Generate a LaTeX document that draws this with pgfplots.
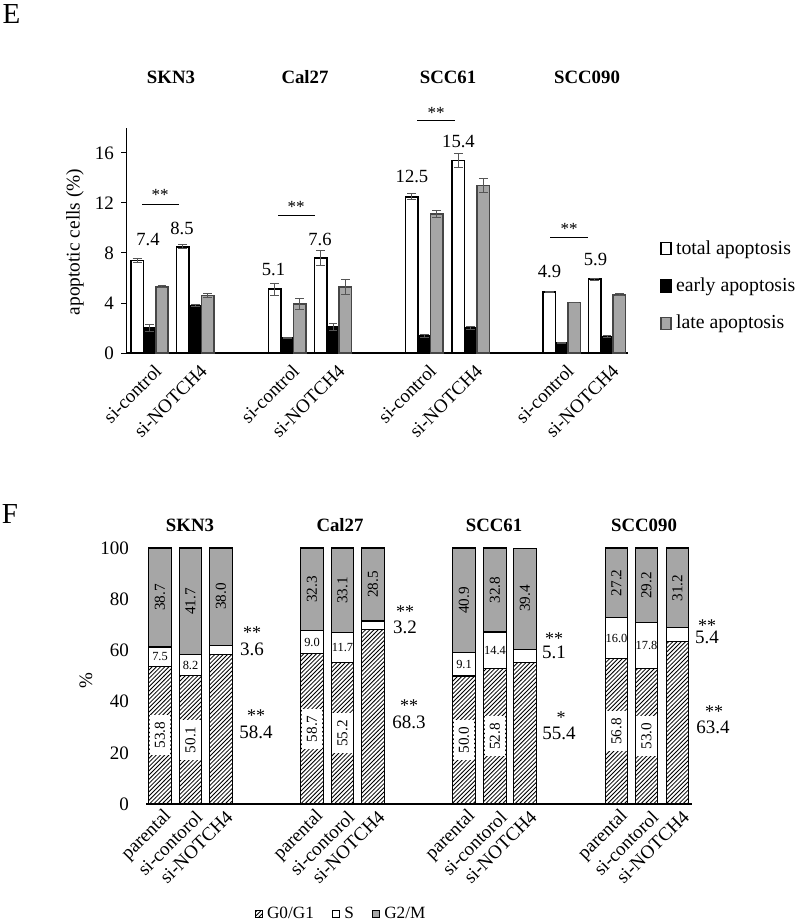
\documentclass[border=0pt]{standalone}
\usepackage{pgfplots}
\pgfplotsset{compat=1.18}
\usepackage{fontspec}
\setmainfont{Liberation Serif}
\usetikzlibrary{patterns}
\pgfdeclarepatternformonly{hatch}{\pgfqpoint{-1pt}{-1pt}}{\pgfqpoint{3.2pt}{3.2pt}}{\pgfqpoint{2.1pt}{2.1pt}}{%
  \pgfsetlinewidth{0.4pt}%
  \pgfpathmoveto{\pgfqpoint{0pt}{0pt}}%
  \pgfpathlineto{\pgfqpoint{2.2pt}{2.2pt}}%
  \pgfusepath{stroke}}
\definecolor{bargray}{RGB}{166,166,166}
\definecolor{edgegray}{RGB}{70,70,70}
\definecolor{errgray}{RGB}{85,85,85}
\newcommand{\fs}[1]{\fontsize{#1}{#1}\selectfont}
\pgfplotsset{
  errE/.style={/pgfplots/error bars/y dir=both, /pgfplots/error bars/y explicit,
    /pgfplots/error bars/error bar style={errgray, line width=0.5pt},
    /pgfplots/error bars/error mark options={rotate=90, mark size=2.2pt, errgray, line width=0.5pt}},
  Fgeom/.style={at={(73pt,-402pt)}, anchor=south west,
    scale only axis, width=273pt, height=128pt,
    xmin=146, xmax=692, ymin=0, ymax=100, clip=false},
}
\tikzset{g0box/.style={rotate=90, fill=white, inner sep=0pt, minimum width=20pt, minimum height=10.4pt, font=\fs{7.6}}}
\begin{document}
\begin{tikzpicture}
\useasboundingbox (0,0) rectangle (399pt,-462pt);
\node[font=\fs{14.5}] at (5.8pt,-6.8pt) {E};
\node[font=\fs{14.5}] at (5pt,-257pt) {F};

% ---------------- Panel E ----------------
\begin{axis}[
  at={(63pt,-176.5pt)}, anchor=south west,
  scale only axis, width=251pt, height=112.5pt,
  xmin=126, xmax=628, ymin=0, ymax=18,
  clip=false,
  axis x line*=bottom, axis y line*=left,
  x axis line style={-, line width=1pt},
  y axis line style={-, line width=0.5pt},
  ytick={0,4,8,12,16},
  xtick={149.5,195.2,287.2,333.0,424.2,470.8,561.8,607.0},
  xticklabels={si-control,si-NOTCH4,si-control,si-NOTCH4,si-control,si-NOTCH4,si-control,si-NOTCH4},
  x tick style={draw=none},
  y tick style={black, line width=0.5pt},
  tick align=outside, major tick length=2.5pt,
  xticklabel style={font=\fs{9.5}, rotate=45, anchor=east, xshift=3pt, yshift=-6.5pt},
  yticklabel style={font=\fs{9.5}},
  /pgf/number format/assume math mode=true,
  bar width=12.4, bar shift=0pt,
  legend style={at={(axis cs:660,5.36)}, anchor=west, draw=none, fill=none, font=\fs{9.9}, row sep=6.3pt, inner sep=0pt, cells={anchor=west}},
  legend image code/.code={\draw[#1] (0pt,-3pt) rectangle (5pt,3pt);},
]
\addplot[ybar, fill=white, draw=black, line width=0.8pt, errE] coordinates {
 (137.1,7.4) +- (0,0.2)
 (182.8,8.5) +- (0,0.15)
 (274.8,5.1) +- (0,0.5)
 (320.6,7.6) +- (0,0.6)
 (411.8,12.5) +- (0,0.25)
 (458.4,15.4) +- (0,0.55)
 (549.4,4.9) +- (0,0.05)
 (594.6,5.9) +- (0,0.1)
};
\addlegendentry{total apoptosis}
\addplot[ybar, fill=black, draw=black, line width=0.8pt, errE] coordinates {
 (149.5,2.0) +- (0,0.25)
 (195.2,3.8) +- (0,0.1)
 (287.2,1.2) +- (0,0.05)
 (333.0,2.1) +- (0,0.3)
 (424.2,1.35) +- (0,0.1)
 (470.8,2.0) +- (0,0.15)
 (561.8,0.8) +- (0,0.05)
 (607.0,1.3) +- (0,0.1)
};
\addlegendentry{early apoptosis}
\addplot[ybar, fill=bargray, draw=edgegray, line width=0.8pt, errE] coordinates {
 (161.9,5.3) +- (0,0.1)
 (207.6,4.6) +- (0,0.2)
 (299.6,3.9) +- (0,0.45)
 (345.4,5.3) +- (0,0.6)
 (436.6,11.1) +- (0,0.3)
 (483.2,13.4) +- (0,0.55)
 (574.2,4.05) +- (0,0.02)
 (619.4,4.65) +- (0,0.08)
};
\addlegendentry{late apoptosis}
% significance brackets
\addplot[black, line width=0.5pt, forget plot] coordinates {(142,11.9) (179,11.9)};
\addplot[black, line width=0.5pt, forget plot] coordinates {(278,10.96) (315,10.96)};
\addplot[black, line width=0.5pt, forget plot] coordinates {(417,18.56) (455,18.56)};
\addplot[black, line width=0.5pt, forget plot] coordinates {(550,9.2) (588,9.2)};
\node[font=\fs{8.5}] at (axis cs:160,12.64) {**};
\node[font=\fs{8.5}] at (axis cs:296,11.68) {**};
\node[font=\fs{8.5}] at (axis cs:436,19.24) {**};
\node[font=\fs{8.5}] at (axis cs:569,9.94) {**};
\node[font=\fs{9.3}] at (axis cs:148,9.04) {7.4};
\node[font=\fs{9.3}] at (axis cs:182,10.0) {8.5};
\node[font=\fs{9.3}] at (axis cs:273.5,6.7) {5.1};
\node[font=\fs{9.3}] at (axis cs:320,9.1) {7.6};
\node[font=\fs{9.3}] at (axis cs:412,14.1) {12.5};
\node[font=\fs{9.3}] at (axis cs:458.5,16.96) {15.4};
\node[font=\fs{9.3}] at (axis cs:549.5,6.5) {4.9};
\node[font=\fs{9.3}] at (axis cs:595.5,7.5) {5.9};
\node[font=\bfseries\fs{9.4}] at (axis cs:171,22.08) {SKN3};
\node[font=\bfseries\fs{9.4}] at (axis cs:305,22.08) {Cal27};
\node[font=\bfseries\fs{9.4}] at (axis cs:448,22.08) {SCC61};
\node[font=\bfseries\fs{9.4}] at (axis cs:587,22.08) {SCC090};
\node[rotate=90, font=\fs{9.7}] at (axis cs:75,8.88) {apoptotic cells (\%)};
\end{axis}

% ---------------- Panel F ----------------
\begin{axis}[
  Fgeom,
  ybar stacked, bar width=22.5, bar shift=0pt,
  axis x line*=bottom, axis y line*=left,
  x axis line style={-, line width=1pt},
  y axis line style={draw=none},
  tick style={draw=none},
  ytick={0,20,40,60,80,100},
  xtick={160,190.5,221,312,342.5,373,464,495,525,616.5,646.5,677.5},
  xticklabels={parental,si-contorol,si-NOTCH4,parental,si-contorol,si-NOTCH4,parental,si-contorol,si-NOTCH4,parental,si-contorol,si-NOTCH4},
  xticklabel style={font=\fs{9.5}, rotate=45, anchor=east, xshift=3pt, yshift=-6.5pt},
  yticklabel style={font=\fs{9.5}, xshift=-5pt},
  /pgf/number format/assume math mode=true,
  legend style={at={(axis cs:342,-43)}, anchor=center, legend columns=3, draw=none, fill=none, font=\fs{8.6}, /tikz/every even column/.style={column sep=7pt}},
  legend image code/.code={\draw[#1] (0pt,-1.8pt) rectangle (3.6pt,1.8pt);},
]
\addplot[pattern=hatch, pattern color=black, draw=black, line width=0.6pt] coordinates {
 (160,53.8) (190.5,50.1) (221,58.4)
 (312,58.7) (342.5,55.2) (373,68.3)
 (464,50.0) (495,52.8) (525,55.4)
 (616.5,56.8) (646.5,53.0) (677.5,63.4)
};
\addlegendentry{G0/G1}
\addplot[fill=white, draw=black, line width=0.6pt] coordinates {
 (160,7.5) (190.5,8.2) (221,3.6)
 (312,9.0) (342.5,11.7) (373,3.2)
 (464,9.1) (495,14.4) (525,5.1)
 (616.5,16.0) (646.5,17.8) (677.5,5.4)
};
\addlegendentry{S}
\addplot[fill=bargray, draw=black, line width=0.6pt] coordinates {
 (160,38.7) (190.5,41.7) (221,38.0)
 (312,32.3) (342.5,33.1) (373,28.5)
 (464,40.9) (495,32.8) (525,39.4)
 (616.5,27.2) (646.5,29.2) (677.5,31.2)
};
\addlegendentry{G2/M}
\end{axis}

% ---------------- Panel F labels (overlay with identical geometry) ----------------
\begin{axis}[Fgeom, hide axis]
% G2/M labels
\node[rotate=90, font=\fs{7.6}] at (axis cs:160,80.65) {38.7};
\node[rotate=90, font=\fs{7.6}] at (axis cs:190.5,79.15) {41.7};
\node[rotate=90, font=\fs{7.6}] at (axis cs:221,81) {38.0};
\node[rotate=90, font=\fs{7.6}] at (axis cs:312,83.85) {32.3};
\node[rotate=90, font=\fs{7.6}] at (axis cs:342.5,83.45) {33.1};
\node[rotate=90, font=\fs{7.6}] at (axis cs:373,85.75) {28.5};
\node[rotate=90, font=\fs{7.6}] at (axis cs:464,79.55) {40.9};
\node[rotate=90, font=\fs{7.6}] at (axis cs:495,83.6) {32.8};
\node[rotate=90, font=\fs{7.6}] at (axis cs:525,80.3) {39.4};
\node[rotate=90, font=\fs{7.6}] at (axis cs:616.5,86.4) {27.2};
\node[rotate=90, font=\fs{7.6}] at (axis cs:646.5,85.4) {29.2};
\node[rotate=90, font=\fs{7.6}] at (axis cs:677.5,84.4) {31.2};
% S labels
\node[font=\fs{6.2}] at (axis cs:160,57.55) {7.5};
\node[font=\fs{6.2}] at (axis cs:190.5,54.2) {8.2};
\node[font=\fs{6.2}] at (axis cs:312,63.2) {9.0};
\node[font=\fs{6.2}] at (axis cs:342.5,61.05) {11.7};
\node[font=\fs{6.2}] at (axis cs:464,54.55) {9.1};
\node[font=\fs{6.2}] at (axis cs:495,60.0) {14.4};
\node[font=\fs{6.2}] at (axis cs:616.5,64.8) {16.0};
\node[font=\fs{6.2}] at (axis cs:646.5,61.9) {17.8};
% G0/G1 labels
\node[g0box] at (axis cs:160,26.9) {53.8};
\node[g0box] at (axis cs:190.5,25.05) {50.1};
\node[g0box] at (axis cs:312,29.35) {58.7};
\node[g0box] at (axis cs:342.5,27.6) {55.2};
\node[g0box] at (axis cs:464,25) {50.0};
\node[g0box] at (axis cs:495,26.4) {52.8};
\node[g0box] at (axis cs:616.5,28.4) {56.8};
\node[g0box] at (axis cs:646.5,26.5) {53.0};
% outside labels
\node[font=\fs{9}] at (axis cs:252,67) {**};
\node[font=\fs{9}] at (axis cs:405,75.2) {**};
\node[font=\fs{9}] at (axis cs:554,64.6) {**};
\node[font=\fs{9}] at (axis cs:707,69.7) {**};
\node[font=\fs{9}] at (axis cs:256,34.5) {**};
\node[font=\fs{9}] at (axis cs:409,38.5) {**};
\node[font=\fs{9}] at (axis cs:561,33.8) {*};
\node[font=\fs{9}] at (axis cs:714,36.1) {**};
\node[font=\fs{9.5}] at (axis cs:252,60.5) {3.6};
\node[font=\fs{9.5}] at (axis cs:405,69.1) {3.2};
\node[font=\fs{9.5}] at (axis cs:554,59.4) {5.1};
\node[font=\fs{9.5}] at (axis cs:707,65.2) {5.4};
\node[font=\fs{9.5}] at (axis cs:256,28.1) {58.4};
\node[font=\fs{9.5}] at (axis cs:409,32) {68.3};
\node[font=\fs{9.5}] at (axis cs:559,27.7) {55.4};
\node[font=\fs{9.5}] at (axis cs:713,30.1) {63.4};
\node[font=\bfseries\fs{9.4}] at (axis cs:190,109) {SKN3};
\node[font=\bfseries\fs{9.4}] at (axis cs:340,109) {Cal27};
\node[font=\bfseries\fs{9.4}] at (axis cs:494,109) {SCC61};
\node[font=\bfseries\fs{9.4}] at (axis cs:644,109) {SCC090};
\node[rotate=90, font=\fs{9.5}] at (axis cs:86,48.4) {\%};
\end{axis}
\end{tikzpicture}
\end{document}
